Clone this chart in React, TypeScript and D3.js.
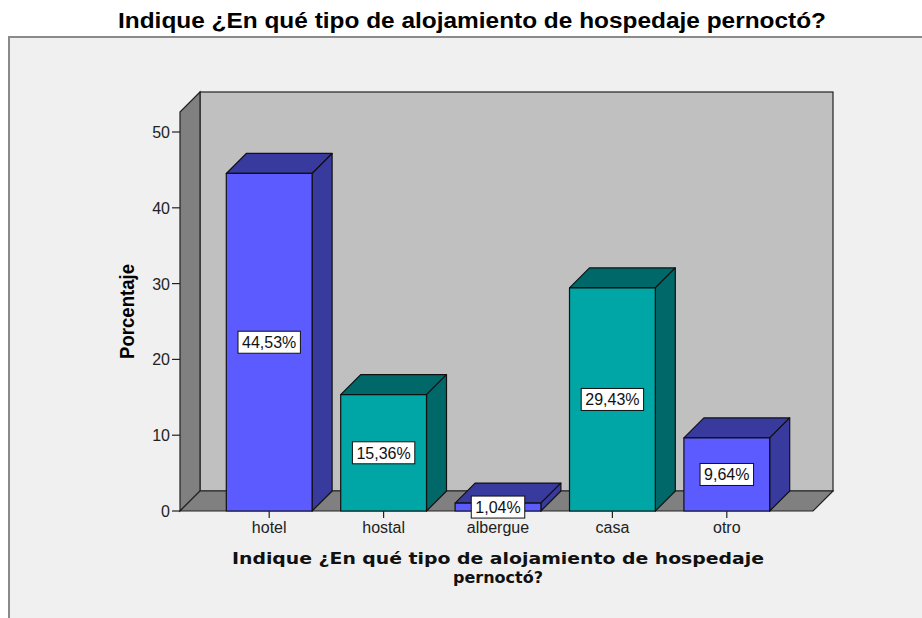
import React from 'react'
import * as d3 from 'd3'

const categories = ['hotel', 'hostal', 'albergue', 'casa', 'otro']
const percentages = [44.53, 15.36, 1.04, 29.43, 9.64]
const yTicks = [0, 10, 20, 30, 40, 50]

const W = 922, H = 618
const DX = 20, DY = 20
const FRONT = ['#5b5bff', '#00a5a5']
const SIDE = ['#393a9e', '#006868']

export default function App() {
  const x = d3.scaleBand<string>().domain(categories).range([212, 784]).paddingInner(0.25).paddingOuter(0.125)
  const y = d3.scaleLinear().domain([0, 52.64]).range([511, 112])
  const y0 = y(0)
  const top = y(52.64)
  const left = 180, right = 813
  const bw = x.bandwidth()
  const fmt = (v: number) => d3.format('.2f')(v).replace('.', ',') + '%'

  return (
    <svg width={W} height={H} style={{ position: 'absolute', left: 0, top: 0 }} fontFamily="'Liberation Sans', Arial, sans-serif">
      <rect x={0} y={0} width={W} height={H} fill="#fff" />
      <rect x={9} y={37} width={W} height={H} fill="#f0f0f0" stroke="#8a8a8a" strokeWidth={2} />
      <text x={472} y={28} textAnchor="middle" fontWeight="bold" fontSize={22}
        textLength={708} lengthAdjust="spacingAndGlyphs">
        Indique ¿En qué tipo de alojamiento de hospedaje pernoctó?
      </text>

      {/* back wall */}
      <rect x={left + DX} y={top - DY} width={right - left} height={y0 - top} fill="#c0c0c0" stroke="#222" strokeWidth={1.2} />
      {/* left wall */}
      <polygon points={`${left},${top} ${left + DX},${top - DY} ${left + DX},${y0 - DY} ${left},${y0}`} fill="#808080" stroke="#222" strokeWidth={1.2} />
      {/* floor */}
      <polygon points={`${left},${y0} ${left + DX},${y0 - DY} ${right + DX},${y0 - DY} ${right},${y0}`} fill="#808080" stroke="#222" strokeWidth={1.2} />

      {/* y axis */}
      {yTicks.map(t => (
        <g key={t}>
          <line x1={left - 8} x2={left} y1={y(t)} y2={y(t)} stroke="#222" strokeWidth={1.2} />
          <text x={left - 10} y={y(t) + 6} textAnchor="end" fontSize={16} fill="#222">{t}</text>
        </g>
      ))}
      <text transform={`translate(134,${(top + y0) / 2}) rotate(-90)`} textAnchor="middle" fontWeight="bold" fontSize={20}
        textLength={95} lengthAdjust="spacingAndGlyphs">Porcentaje</text>

      {/* bars */}
      {categories.map((c, i) => {
        const bx = x(c) as number
        const yv = y(percentages[i])
        const k = i % 2
        return (
          <g key={c} stroke="#111" strokeWidth={1.2} strokeLinejoin="round">
            <polygon points={`${bx},${yv} ${bx + DX},${yv - DY} ${bx + bw + DX},${yv - DY} ${bx + bw},${yv}`} fill={SIDE[k]} />
            <polygon points={`${bx + bw},${yv} ${bx + bw + DX},${yv - DY} ${bx + bw + DX},${y0 - DY} ${bx + bw},${y0}`} fill={SIDE[k]} />
            <rect x={bx} y={yv} width={bw} height={y0 - yv} fill={FRONT[k]} />
          </g>
        )
      })}

      {/* x axis ticks and labels */}
      {categories.map(c => {
        const cx = (x(c) as number) + bw / 2
        return (
          <g key={c}>
            <line x1={cx} x2={cx} y1={y0} y2={y0 + 7} stroke="#222" strokeWidth={1.2} />
            <text x={cx} y={y0 + 22} textAnchor="middle" fontSize={16} fill="#222">{c}</text>
          </g>
        )
      })}

      {/* value labels */}
      {categories.map((c, i) => {
        const cx = (x(c) as number) + bw / 2
        const cy = (y(percentages[i]) + y0) / 2
        const label = fmt(percentages[i])
        const tw = label.length * 8.9 + 1
        return (
          <g key={c}>
            <rect x={cx - tw / 2 - 4} y={cy - 11} width={tw + 8} height={22} fill="#fff" stroke="#111" strokeWidth={1} />
            <text x={cx} y={cy + 6} textAnchor="middle" fontSize={16} fill="#111">{label}</text>
          </g>
        )
      })}

      {/* x axis title */}
      <text x={498} y={564} textAnchor="middle" fontWeight="bold" fontSize={16} fill="#111"
        fontFamily="'DejaVu Sans', Verdana, sans-serif" textLength={532} lengthAdjust="spacingAndGlyphs">
        Indique ¿En qué tipo de alojamiento de hospedaje
      </text>
      <text x={498} y={583} textAnchor="middle" fontWeight="bold" fontSize={16} fill="#111"
        fontFamily="'DejaVu Sans', Verdana, sans-serif">pernoctó?</text>
    </svg>
  )
}
